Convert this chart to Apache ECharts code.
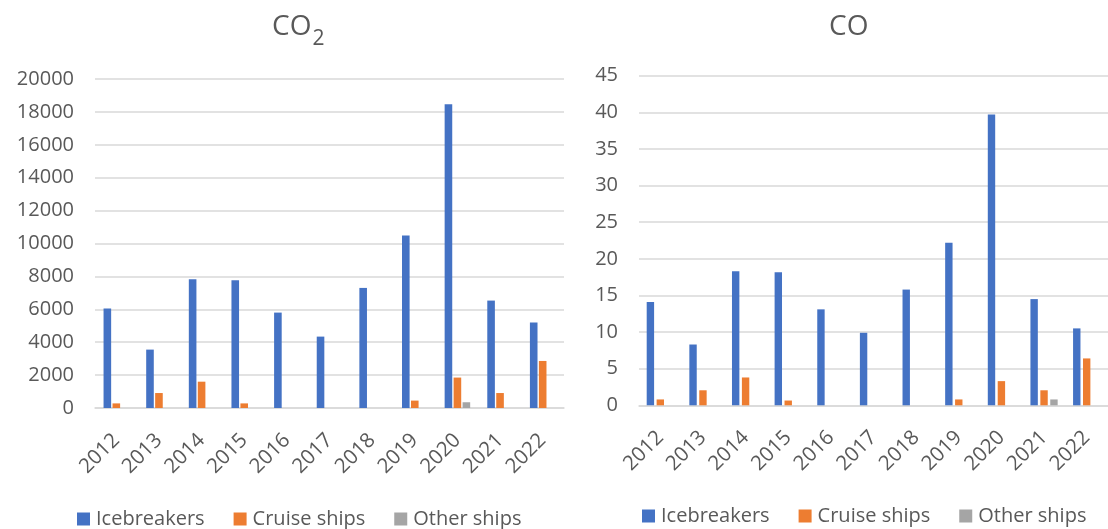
<!DOCTYPE html>
<html>
<head>
<meta charset="utf-8">
<title>CO2 and CO emissions by ship type</title>
<script src="https://cdn.jsdelivr.net/npm/echarts@6/dist/echarts.min.js"></script>
<style>
  html, body { margin: 0; padding: 0; background: #ffffff; }
  #chart { width: 1108px; height: 529px; }
</style>
</head>
<body>
<div id="chart"></div>
<script>
// Years on the category axis
const years = ['2012', '2013', '2014', '2015', '2016', '2017', '2018', '2019', '2020', '2021', '2022'];
const seriesNames = ['Icebreakers', 'Cruise ships', 'Other ships'];

// CO2 emissions
const co2Icebreakers = [6050, 3550, 7830, 7770, 5800, 4340, 7300, 10490, 18460, 6530, 5190];
const co2Cruise      = [280, 910, 1600, 280, 0, 0, 0, 450, 1850, 910, 2860];
const co2Other       = [0, 0, 0, 0, 0, 0, 0, 0, 350, 0, 0];

// CO emissions
const coIcebreakers = [14.1, 8.3, 18.3, 18.15, 13.1, 9.9, 15.8, 22.2, 39.7, 14.5, 10.5];
const coCruise      = [0.8, 2.05, 3.8, 0.65, 0, 0, 0, 0.8, 3.3, 2.05, 6.4];
const coOther       = [0, 0, 0, 0, 0, 0, 0, 0, 0, 0.8, 0];

// Value axis ranges
const co2Axis = { min: 0, max: 20000, interval: 2000 };
const coAxis  = { min: 0, max: 45, interval: 5 };

const FONT = '"Open Sans", "Noto Sans", sans-serif';
const TEXT = '#595959';
const GRIDLINE = '#d9d9d9';
const COLORS = ['#4472C4', '#ED7D31', '#A5A5A5'];

function titleRich() {
  return {
    m: { fontSize: 28, fontWeight: 'normal', fontFamily: FONT, color: TEXT, lineHeight: 34, verticalAlign: 'top' },
    s: { fontSize: 21, fontWeight: 'normal', fontFamily: FONT, color: TEXT, lineHeight: 24, padding: [16, 0, 0, 1], verticalAlign: 'top' }
  };
}

function xAxisFor(gridIndex) {
  return {
    type: 'category', gridIndex, data: years,
    axisLine: { lineStyle: { color: GRIDLINE, width: 1.5 } },
    axisTick: { show: false },
    axisLabel: { rotate: 45, margin: 29, fontSize: 20.5, fontFamily: FONT, color: TEXT, interval: 0 }
  };
}

function yAxisFor(gridIndex, range) {
  return {
    type: 'value', gridIndex,
    min: range.min, max: range.max, interval: range.interval,
    axisLine: { show: false }, axisTick: { show: false },
    splitLine: { lineStyle: { color: GRIDLINE, width: 1.5 } },
    axisLabel: {
      margin: 21, fontSize: 20, fontFamily: FONT, color: TEXT,
      formatter: (v) => String(v)
    }
  };
}

function barSeries(name, data, idx, barWidth, barGap) {
  return {
    type: 'bar', name, data,
    xAxisIndex: idx, yAxisIndex: idx,
    barWidth, barGap,
    itemStyle: { color: COLORS[seriesNames.indexOf(name)] },
    emphasis: { disabled: true }
  };
}

function legendAt(left, top) {
  return {
    data: seriesNames, left, top,
    icon: 'rect', itemWidth: 13, itemHeight: 13, itemGap: 29,
    textStyle: { fontSize: 20, fontFamily: FONT, color: TEXT, padding: [0, 0, 0, 1] }
  };
}

const chart = echarts.init(document.getElementById('chart'), null, { renderer: 'canvas' });

chart.setOption({
  animation: false,
  backgroundColor: '#ffffff',
  color: COLORS,
  title: [
    { text: '{m|CO}{s|2}', left: 267, top: 8, textStyle: { rich: titleRich() } },
    { text: '{m|CO}', left: 824, top: 8, textStyle: { rich: titleRich() } }
  ],
  legend: [legendAt(72, 504), legendAt(637, 501)],
  grid: [
    { left: 95, top: 79, width: 469, height: 329 },
    { left: 639, top: 75.7, width: 478.5, height: 329.6 }
  ],
  xAxis: [xAxisFor(0), xAxisFor(1)],
  yAxis: [yAxisFor(0, co2Axis), yAxisFor(1, coAxis)],
  series: [
    barSeries('Icebreakers', co2Icebreakers, 0, 7.6, '18%'),
    barSeries('Cruise ships', co2Cruise, 0, 7.6, '18%'),
    barSeries('Other ships', co2Other, 0, 7.6, '18%'),
    barSeries('Icebreakers', coIcebreakers, 1, 7.4, '34%'),
    barSeries('Cruise ships', coCruise, 1, 7.4, '34%'),
    barSeries('Other ships', coOther, 1, 7.4, '34%')
  ]
});
</script>
</body>
</html>
